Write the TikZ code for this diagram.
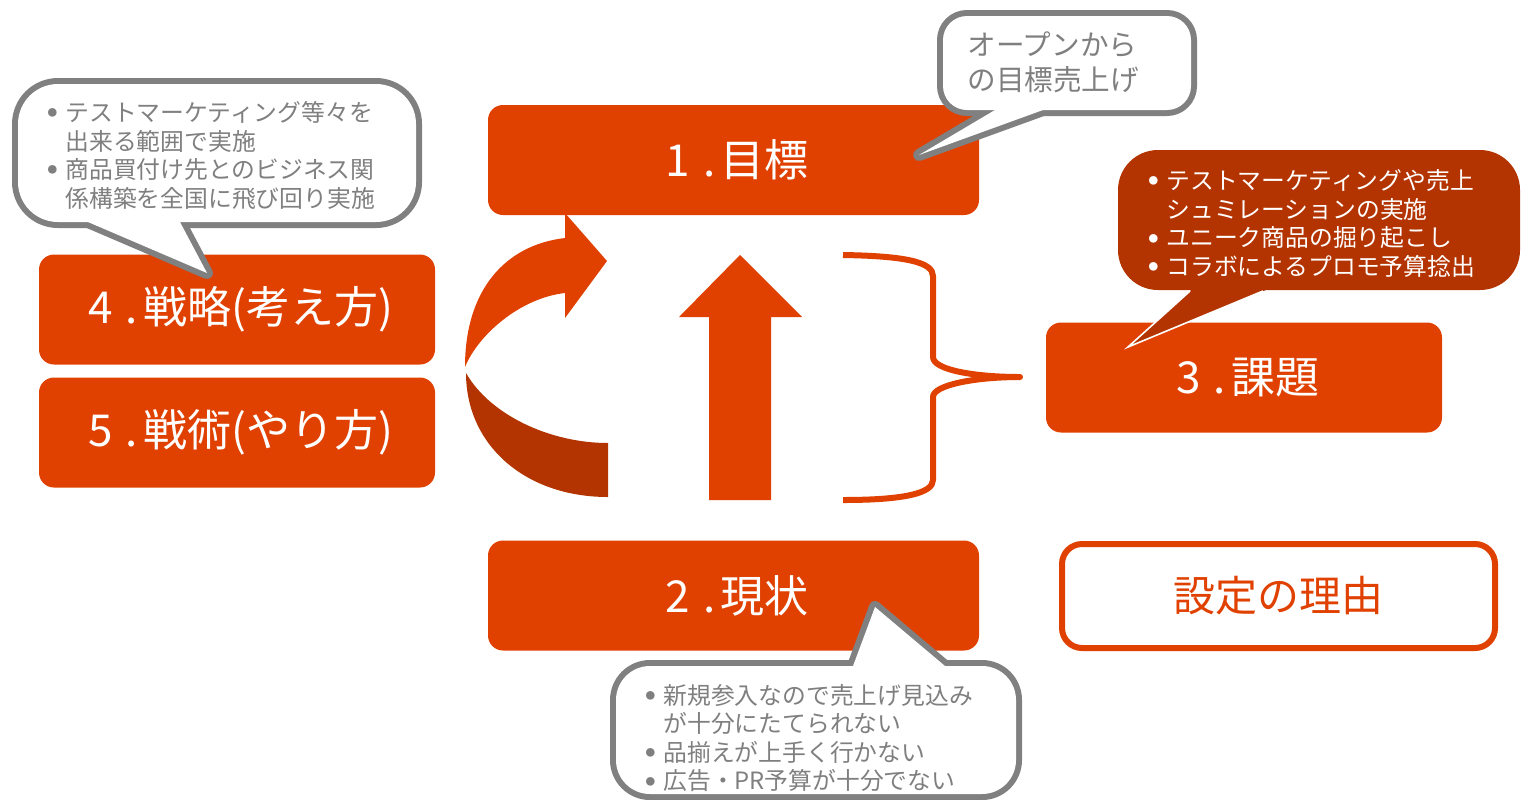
\documentclass[tikz,border=0pt]{standalone}
\usepackage{fontspec}
\setmainfont{Noto Sans CJK JP}
\usetikzlibrary{calc}
\definecolor{orng}{RGB}{224,64,0}
\definecolor{drk}{RGB}{179,52,0}
\definecolor{gbord}{RGB}{128,128,128}
\definecolor{gtext}{RGB}{127,127,127}
\newcommand{\bul}{\makebox[0pt][c]{\raisebox{2.4pt}{\fontsize{4.8}{5}\selectfont ●}}\hspace{6.5pt}}
\newcommand{\ind}{\hspace*{6.5pt}}
\newcommand{\ttl}[2]{\makebox[20pt][c]{#1}\makebox[11.5pt][c]{.}#2}
\begin{document}
\begin{tikzpicture}[x=0.5pt,y=-0.5pt,
  titlebox/.style={fill=orng, rounded corners=7.5pt, minimum width=#1, minimum height=55pt,
    inner sep=0, text=white, font=\fontsize{22}{26}\selectfont},
  calltext/.style={anchor=west, inner sep=0, align=left, font=\fontsize{11.9}{14.3}\selectfont},
  grayline/.style={gbord, line width=6pt, line join=round}]
\useasboundingbox (0,0) rectangle (1524,799);

% title boxes
\node[titlebox=245.5pt] (goal) at (733.5,160) {\ttl{1}{目標}};
\node[titlebox=245.5pt] (now) at (733.5,595.5) {\ttl{2}{現状}};
\node[titlebox=198pt] (strat) at (237,309.5) {\ttl{4}{戦略(考え方)}};
\node[titlebox=198pt] (tact) at (237,432.5) {\ttl{5}{戦術(やり方)}};
\node[titlebox=198pt] (issue) at (1244,377.5) {\ttl{3}{課題}};
\node[draw=orng, line width=3pt, rounded corners=10pt, minimum width=216.5pt, minimum height=52pt,
  inner sep=0, text=orng, font=\fontsize{21}{25}\selectfont] (reason) at (1278.5,596) {設定の理由};

% curved arrow
\fill[orng] (465,367) .. controls (465,290) and (505,245) .. (565,238) -- (565,213) -- (607,261)
  -- (565,318) -- (565,293) .. controls (520,298) and (478,335) .. (465,367) -- cycle;
\fill[drk] (466,373) .. controls (466,445) and (525,497) .. (608,497) -- (608,443)
  .. controls (550,443) and (490,415) .. (466,373) -- cycle;

% up arrow
\fill[orng] (709,500) -- (709,317) -- (679,317) -- (740,255) -- (802,317) -- (771,317) -- (771,500) -- cycle;

% brace
\draw[orng, line width=3pt, line join=round]
  (843,255) .. controls (905,256) and (933,262) .. (933,276) -- (933,357)
  .. controls (933,370) and (975,377) .. (1020,377)
  .. controls (975,377) and (933,385) .. (933,397) -- (933,480)
  .. controls (933,493) and (905,500) .. (843,500);

% top-left callout
\coordinate (a1) at (88,222); \coordinate (at) at (207,273); \coordinate (a2) at (180,222);
\draw[grayline, rounded corners=20pt] (18,84) rectangle (416,222);
\draw[grayline] ($(a1)!-0.3!(at)$) -- (at) -- ($(a2)!-0.3!(at)$) -- cycle;
\fill[white, rounded corners=20pt] (18,84) rectangle (416,222);
\fill[white] ($(a1)!-0.3!(at)$) -- (at) -- ($(a2)!-0.3!(at)$) -- cycle;
\node[calltext, text=gtext] (tltext) at (52,155.5)
  {\bul テストマーケティング等々を\\\ind 出来る範囲で実施\\\bul 商品買付け先とのビジネス関\\\ind 係構築を全国に飛び回り実施};

% top-right callout
\coordinate (b1) at (995,110); \coordinate (bt) at (919,155); \coordinate (b2) at (1043,110);
\draw[grayline, rounded corners=12pt] (943,16) rectangle (1191,110);
\draw[grayline] ($(b1)!-0.3!(bt)$) -- (bt) -- ($(b2)!-0.3!(bt)$) -- cycle;
\fill[white, rounded corners=12pt] (943,16) rectangle (1191,110);
\fill[white] ($(b1)!-0.3!(bt)$) -- (bt) -- ($(b2)!-0.3!(bt)$) -- cycle;
\node[anchor=west, inner sep=0, align=left, text=gtext, font=\fontsize{14.3}{17.5}\selectfont]
  (trtext) at (967,62) {オープンから\\の目標売上げ};

% right dark callout
\fill[drk, rounded corners=20pt] (1118,150) rectangle (1520,290);
\fill[drk] (1200,282) -- (1128,347) -- (1290,280) -- cycle;
\draw[white, line width=0.8pt] (1190,291) -- (1128,347) -- (1263,291);
\node[calltext, text=white] (rtext) at (1153,223.5)
  {\bul テストマーケティングや売上\\\ind シュミレーションの実施\\\bul ユニーク商品の掘り起こし\\\bul コラボによるプロモ予算捻出};

% bottom callout
\coordinate (c1) at (853,666); \coordinate (ct) at (875,607); \coordinate (c2) at (945,666);
\draw[grayline, rounded corners=17pt] (616,666) rectangle (1016,794);
\draw[grayline] ($(c1)!-0.3!(ct)$) -- (ct) -- ($(c2)!-0.3!(ct)$) -- cycle;
\fill[white, rounded corners=17pt] (616,666) rectangle (1016,794);
\fill[white] ($(c1)!-0.3!(ct)$) -- (ct) -- ($(c2)!-0.3!(ct)$) -- cycle;
\node[calltext, text=gtext] (btext) at (650,738)
  {\bul 新規参入なので売上げ見込み\\\ind が十分にたてられない\\\bul 品揃えが上手く行かない\\\bul 広告・PR予算が十分でない};
\end{tikzpicture}
\end{document}
